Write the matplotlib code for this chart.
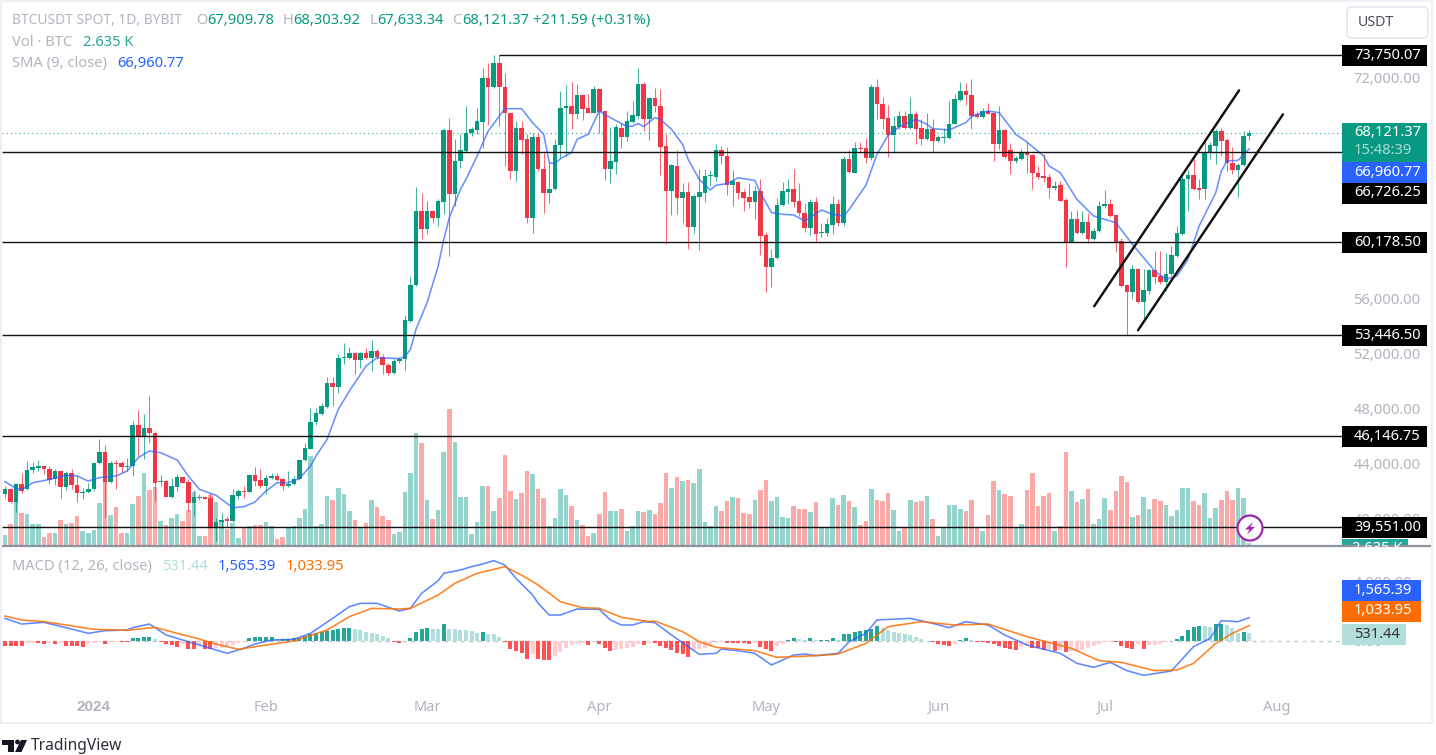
import numpy as np
import pandas as pd
import matplotlib
matplotlib.use("Agg")
import matplotlib.pyplot as plt
from matplotlib.patches import Rectangle, FancyBboxPatch, Circle, Polygon
from matplotlib.ticker import FixedLocator, FixedFormatter
from matplotlib.transforms import ScaledTranslation

plt.rcParams['font.family'] = ['Noto Sans', 'DejaVu Sans']

# ---------- data (prices in thousands of USDT) ----------
dates = pd.date_range("2023-12-16", periods=225, freq="D")

opens = [41.91,42.27,41.35,42.63,42.27,43.65,43.84,43.96,43.77,42.99,
43.60,42.44,43.43,42.56,42.03,42.08,42.27,44.16,44.98,42.80,
44.21,44.21,43.91,43.96,46.96,46.14,46.70,46.38,42.83,42.85,
41.71,42.44,43.17,42.80,41.30,41.64,41.69,41.67,39.54,39.90,
40.10,39.97,41.79,42.15,42.08,43.31,42.95,42.51,43.07,43.21,
42.99,42.51,42.66,43.05,44.37,45.22,47.15,47.74,48.24,49.98,
49.72,51.80,51.82,52.18,51.63,52.18,51.77,52.33,51.90,51.27,
50.73,51.56,51.70,54.48,57.12,62.46,61.13,62.46,61.97,63.13,
68.33,63.71,66.06,66.78,68.11,68.33,68.91,72.13,71.43,73.17,
71.45,69.54,65.36,68.45,67.66,61.95,67.85,65.53,63.79,64.03,
67.22,69.90,70.07,69.52,70.90,69.93,69.59,71.33,69.71,65.48,
66.01,68.50,67.83,68.91,69.35,71.69,69.15,70.65,70.07,67.15,
63.91,65.72,63.42,63.84,61.30,63.50,63.79,64.97,64.95,66.86,
66.47,64.32,64.59,63.84,63.47,63.13,63.91,60.69,58.37,59.02,
62.87,63.86,64.03,63.16,62.34,61.20,63.11,60.84,60.84,61.44,
62.94,61.59,66.25,65.24,67.05,67.00,66.28,71.48,70.20,69.18,
67.95,68.55,69.35,68.45,69.47,68.45,67.66,68.38,67.51,67.75,
67.73,68.75,70.51,71.16,70.87,69.47,69.30,69.71,69.54,67.32,
68.33,66.86,66.06,66.23,66.69,66.54,65.24,65.00,64.95,64.15,
64.32,63.26,60.23,61.85,60.84,61.68,60.40,60.98,62.80,62.97,
62.14,60.26,57.07,56.61,58.27,55.86,56.65,58.15,57.74,57.33,
57.86,59.19,60.77,64.75,65.09,64.13,64.03,66.64,67.17,68.24,
67.58,65.96,65.43,65.77,67.91]

closes = [42.27,41.35,42.63,42.15,43.65,43.87,43.96,43.72,42.95,43.60,
42.44,43.43,42.56,42.03,42.10,42.27,44.21,44.98,42.80,44.16,
44.11,43.91,43.99,46.96,46.14,46.70,46.33,42.76,42.87,41.71,
42.51,43.17,42.76,41.30,41.69,41.71,41.59,39.54,39.93,40.05,
40.00,41.84,42.13,42.08,43.31,42.87,42.51,43.07,43.24,42.95,
42.51,42.68,43.05,44.40,45.29,47.18,47.78,48.29,49.98,49.72,
51.82,51.90,52.18,51.63,52.18,51.77,52.33,51.90,51.27,50.69,
51.56,51.75,54.53,57.12,62.46,61.13,62.46,61.97,63.18,68.33,
63.71,66.11,66.86,68.14,68.38,68.96,72.13,71.43,73.17,71.43,
69.54,65.36,68.45,67.58,61.95,67.85,65.48,63.79,64.03,67.27,
69.90,70.07,69.52,70.90,69.88,69.59,71.33,69.66,65.48,66.06,
68.55,67.83,68.96,69.40,71.69,69.15,70.65,70.05,67.10,63.91,
65.77,63.42,63.84,61.30,63.55,63.84,65.00,65.04,66.86,66.45,
64.32,64.61,63.79,63.42,63.13,63.91,60.64,58.37,59.07,62.87,
63.91,64.03,63.11,62.34,61.20,63.11,60.76,60.89,61.49,62.94,
61.59,66.25,65.29,67.05,66.96,66.28,71.48,70.20,69.16,67.95,
68.60,69.35,68.45,69.47,68.43,67.66,68.38,67.51,67.83,67.83,
68.79,70.58,71.16,70.85,69.35,69.30,69.71,69.52,67.32,68.33,
66.40,66.06,66.28,66.69,66.50,65.19,64.95,64.88,64.15,64.27,
63.21,60.23,61.85,60.84,61.68,60.40,61.03,62.82,62.97,62.09,
60.21,57.02,56.61,58.27,55.86,56.70,58.15,57.69,57.33,57.91,
59.24,60.84,64.80,65.09,64.03,64.01,66.76,67.22,68.24,67.54,
65.92,65.43,65.82,67.91,68.12]

highs = [42.51,42.39,42.75,43.48,44.33,44.25,44.40,44.01,43.96,43.77,
43.65,43.60,43.77,43.24,42.39,42.75,44.25,45.90,45.49,44.33,
44.40,44.33,44.57,47.23,48.00,47.71,49.02,46.50,43.29,42.95,
43.12,43.36,43.24,42.99,42.22,41.91,41.79,41.98,40.22,40.58,
40.34,42.27,42.27,42.51,43.36,43.89,43.77,43.29,43.48,43.43,
43.12,43.60,43.24,44.45,45.66,48.20,48.20,48.56,50.42,50.42,
52.06,52.86,52.62,52.23,52.23,52.55,53.08,52.43,52.06,51.41,
51.70,51.90,54.92,57.70,64.22,63.79,63.18,62.53,63.30,68.50,
69.18,67.66,68.02,70.07,68.57,69.95,72.85,73.17,73.75,73.75,
72.49,69.54,68.99,68.99,68.02,68.14,68.14,66.81,66.01,67.70,
71.16,71.57,71.84,71.65,70.92,70.92,71.52,71.40,69.71,68.57,
68.74,68.86,69.71,70.44,72.85,71.84,70.73,71.36,71.33,68.02,
65.84,66.86,64.51,64.56,63.67,65.48,65.48,65.41,67.29,67.17,
67.12,65.41,64.66,64.03,64.46,64.27,64.80,60.93,59.68,63.40,
64.56,64.75,65.53,64.51,63.06,63.35,63.50,61.56,61.92,63.55,
63.30,66.45,66.86,67.46,67.49,67.78,71.65,72.06,70.75,70.15,
69.35,69.71,69.71,70.75,69.71,69.11,69.59,69.11,67.95,68.50,
70.44,70.92,71.84,71.72,72.06,69.71,69.95,70.32,69.59,70.07,
68.38,67.41,66.45,66.98,67.46,66.57,65.72,66.57,65.12,64.63,
64.63,63.43,62.46,62.53,62.46,62.34,61.25,63.18,63.96,63.30,
62.19,60.52,57.14,58.52,58.35,58.22,58.22,59.56,59.56,59.44,
59.92,61.37,65.00,65.43,66.25,64.75,67.54,67.46,68.43,68.50,
67.73,67.12,65.92,68.26,68.30]

lows = [41.67,41.30,40.63,42.03,42.20,43.48,43.60,43.36,42.63,42.56,
41.64,42.22,42.27,41.38,41.59,42.03,42.15,44.08,40.22,42.75,
42.27,43.53,43.60,43.24,44.69,44.45,45.66,41.42,42.51,41.71,
41.67,42.15,42.71,40.70,40.34,41.50,41.55,39.49,38.52,39.49,
39.56,39.90,41.55,41.64,41.98,42.51,42.39,41.91,42.99,42.87,
42.22,42.44,42.56,42.95,44.33,45.17,46.91,47.66,48.20,48.32,
49.23,51.34,51.70,50.61,51.10,51.70,50.86,51.70,50.61,50.59,
50.66,51.46,50.93,54.43,57.00,60.40,60.76,61.56,61.37,62.21,
59.19,62.82,65.60,66.69,67.90,68.02,67.05,68.70,71.40,68.62,
65.72,64.80,64.63,66.57,61.56,60.89,65.36,62.34,63.06,63.98,
66.33,66.45,68.43,69.11,69.06,69.54,69.54,68.14,64.71,64.51,
65.12,67.05,67.53,68.86,69.11,68.26,67.61,69.64,65.04,60.09,
62.17,62.22,61.61,59.68,60.84,59.63,63.11,64.27,64.63,65.84,
63.64,62.82,63.35,62.46,62.70,61.85,59.24,56.58,56.97,58.95,
62.82,62.94,62.77,62.09,60.93,60.69,60.28,60.60,60.64,60.76,
61.37,61.37,65.19,65.19,66.64,65.91,66.16,69.16,68.38,66.40,
66.64,68.43,68.38,68.38,67.29,67.22,67.58,66.74,67.46,67.37,
67.70,68.75,70.44,70.15,68.38,69.23,69.23,69.47,66.09,66.93,
66.33,65.12,65.96,66.16,65.19,64.08,64.76,64.56,63.38,63.96,
63.18,58.42,60.21,60.77,60.77,60.11,60.35,60.93,62.70,62.05,
59.48,56.97,53.45,56.05,55.81,54.48,56.41,57.21,57.14,56.65,
57.74,59.15,60.69,62.46,63.98,63.30,63.35,66.25,65.84,66.45,
65.36,65.12,63.50,65.72,67.63]

# volume, thousands of BTC
volumes = [11,22,50,33,32,22,22,9,13,13,
26,22,23,30,15,13,16,43,75,31,
39,13,13,42,50,73,56,59,25,21,
28,32,25,36,54,10,10,51,44,24,
17,23,8,18,20,21,21,24,20,7,
9,19,20,28,37,90,20,22,50,46,
58,52,35,26,18,23,46,39,30,26,
12,14,54,73,113,103,46,27,36,94,
137,104,49,49,12,24,60,60,35,48,
91,55,47,53,75,72,57,48,20,28,
57,51,40,26,21,10,13,32,54,35,
35,37,15,20,35,34,36,32,43,73,
58,69,65,66,63,77,24,20,40,35,
45,49,48,33,32,46,56,66,45,49,
29,28,40,37,37,34,44,19,19,48,
41,51,45,39,21,25,57,46,45,53,
36,15,19,46,44,45,50,27,10,18,
41,41,37,35,46,18,15,31,65,56,
52,50,19,22,56,73,40,50,53,15,
20,94,55,44,47,57,22,27,48,36,
55,70,64,29,31,49,37,47,45,41,
30,36,58,58,45,41,53,28,38,46,
55,46,58,48,2.635]

# SMA(9) read at the listed candle numbers
sma_at = [0,2,3,5,8,11,13,15,17,20,22,24,26,28,31,33,35,38,41,43,45,47,49,51,53,55,56,58,60,62,64,65,67,71,72,73,74,76,78,79,80,82,83,85,87,90,93,95,97,98,99,100,102,103,105,107,109,112,113,114,115,117,118,120,122,123,125,127,128,130,132,135,136,138,140,142,144,147,149,151,152,155,157,159,161,164,166,167,170,173,174,177,179,182,184,187,188,190,193,196,200,203,207,209,211,213,215,218,219,220,222,224]
sma_vals = [42.83,42.32,42.27,42.75,42.99,43.29,43.24,42.87,43.12,43.24,43.60,44.57,45.05,44.93,44.40,43.24,42.27,41.84,40.94,41.01,41.35,42.15,42.75,42.75,43.05,43.96,44.69,45.90,48.07,49.40,50.61,51.22,51.82,51.75,51.90,52.43,53.88,55.81,58.47,60.40,61.97,64.03,64.75,66.45,68.26,69.88,69.88,68.86,68.02,65.96,65.89,66.25,66.69,67.66,68.02,69.71,69.23,68.58,68.62,68.80,68.58,69.23,69.11,68.38,67.29,66.21,64.75,63.98,64.32,64.44,64.87,64.68,63.79,62.34,62.22,62.17,61.73,62.53,62.22,62.09,62.58,64.32,66.57,67.95,68.55,69.11,68.75,68.43,68.33,68.87,69.30,69.71,69.59,68.02,67.46,66.45,65.72,65.24,63.30,62.10,61.61,60.04,58.11,57.50,57.74,58.95,61.37,63.79,65.36,66.09,66.13,66.96]

macd_at = [0,3,7,11,15,18,22,23,26,29,32,35,37,40,43,45,48,52,55,59,62,64,67,71,73,75,77,78,79,82,84,86,88,90,92,95,96,98,100,103,107,109,111,113,115,117,120,123,125,128,129,132,135,138,142,144,146,150,152,155,157,163,167,170,173,177,180,184,190,193,196,199,202,205,210,214,217,219,222,224]
macd_vals = [1523,1142,1254,896,515,694,739,896,1142,403,67,-269,-493,-829,-493,-202,67,112,515,1523,2307,2531,2531,2016,2195,3203,3763,4054,4547,4771,4995,5174,5398,5107,4211,3091,2531,1747,1747,2150,2128,1411,1075,1075,1299,1232,403,-381,-896,-829,-538,-650,-829,-1613,-941,-874,-986,-829,-45,515,1411,1523,1187,896,1299,1075,403,-269,-829,-1501,-1770,-1434,-1994,-2307,-2016,-381,179,1366,1299,1565]

signal_at = [0,3,7,11,16,22,27,31,35,38,42,47,52,58,62,66,71,73,78,81,85,90,93,96,100,104,107,111,116,117,122,125,128,135,139,146,150,155,159,165,171,177,184,192,197,201,207,211,214,218,221,224]
signal_vals = [1680,1411,1299,1075,784,717,918,515,134,-202,-560,-269,0,739,1635,2195,2150,2195,3091,3875,4547,4995,4435,3763,2643,2240,2195,1590,1299,1344,627,-45,-426,-650,-1098,-986,-874,-157,963,1299,1075,1142,291,-493,-1322,-1434,-1994,-1949,-1501,-157,515,1034]

hist_vals = [-336,-336,-336,-358,-134,-112,-112,-179,-112,-202,
-134,-314,-336,-358,-381,-224,-134,-67,-179,-67,
-45,-45,-67,179,179,246,269,134,-90,-179,
-269,-403,-224,-538,-538,-269,-538,-538,-493,-448,
-336,-269,-134,-90,202,246,246,246,246,157,
157,157,179,202,336,448,560,627,694,739,
806,851,851,829,739,627,560,448,336,179,
-90,-134,-22,224,582,784,851,829,806,1120,
829,784,739,717,672,560,582,493,470,269,
-45,-538,-672,-784,-1232,-896,-1187,-1277,-1299,-1008,
-717,-448,-269,-224,-112,-269,-67,-179,-493,-672,
-627,-560,-493,-403,-224,-246,-112,-112,-336,-493,
-627,-784,-896,-1053,-627,-560,-448,-336,-112,-67,
-112,-112,-112,-157,-224,-112,-403,-560,-672,-336,
-179,67,179,112,90,179,45,45,90,179,
45,448,493,605,672,717,806,1008,896,739,
605,538,448,381,269,112,0,-67,-224,-291,
-314,-179,45,179,45,-67,-90,-134,-224,-336,
-448,-560,-582,-403,-336,-448,-493,-627,-560,-672,
-605,-717,-694,-672,-605,-493,-336,-179,-67,-45,
-67,-336,-493,-515,-179,-560,-291,-269,-179,-90,
-22,134,336,717,941,1008,986,963,1120,1165,
1075,851,515,605,538]

price_ticks = [72000, 56000, 52000, 48000, 44000, 40000]
macd_ticks = [4000, 0]
month_at = [16, 47, 76, 107, 137, 168, 198, 229]
month_labels = ["2024", "Feb", "Mar", "Apr", "May", "Jun", "Jul", "Aug"]
level_prices = [66726.25, 60178.50, 53446.50, 46146.75, 39551.00]
ath_price = 73750.07
last_price = 68121.37
channel_upper_x, channel_upper_y = [196.1, 222.2], [55545, 71211]
channel_lower_x, channel_lower_y = [204.0, 230.1], [53805, 69471]

# ---------- layout helpers ----------
W, H = 1436, 755
fig = plt.figure(figsize=(W / 100, H / 100), dpi=100, facecolor="white")

def axes_px(x0, y0, x1, y1, **kw):
    return fig.add_axes([x0 / W, 1 - y1 / H, (x1 - x0) / W, (y1 - y0) / H], **kw)

GREEN, RED = "#089981", "#f23645"
GRAY = "#b2b5be"
FS = 10.6
X0, X1 = 2, 1342
xlim = ((X0 - 5) / 5.554, (X1 - 5) / 5.554)

o = np.array(opens) * 1000
c = np.array(closes) * 1000
hi = np.array(highs) * 1000
lo = np.array(lows) * 1000
idx = np.arange(len(dates))
up = c >= o

# volume
ax_v = axes_px(X0, 4, X1, 546, zorder=1)
ax_v.bar(idx, volumes, width=0.82, linewidth=0,
         color=np.where(up, "#95d3cd", "#f9a9a7"))
ax_v.set_xlim(*xlim)
ax_v.set_ylim(0, 542)
ax_v.axis("off")

# price
ax = axes_px(X0, 4, X1, 546, zorder=2)
ax.patch.set_alpha(0)
ax.set_xlim(*xlim)
ax.set_ylim(38161, 77472)
for s in ax.spines.values():
    s.set_visible(False)
cols = np.where(up, GREEN, RED)
ax.vlines(idx, lo, hi, colors=cols, linewidth=0.75, alpha=0.75, zorder=2)
ax.bar(idx, np.maximum(np.abs(c - o), 70), bottom=np.minimum(o, c), width=0.82,
       color=cols, linewidth=0, zorder=3)
ax.plot(sma_at, np.array(sma_vals) * 1000, color="#2962ff", alpha=0.7, lw=1.15, zorder=4)
ax.hlines(last_price, xlim[0], xlim[1], colors=GREEN, lw=0.9,
          linestyles=(0, (1, 2.4)), alpha=0.75, zorder=1)
ax.hlines(level_prices, xlim[0], xlim[1], colors="#111111", lw=1.0, zorder=5)
ax.hlines(ath_price, 89, xlim[1], colors="#111111", lw=1.0, zorder=5)
ax.plot(channel_upper_x, channel_upper_y, color="#111111", lw=1.75, zorder=5,
        solid_capstyle="round")
ax.plot(channel_lower_x, channel_lower_y, color="#111111", lw=1.75, zorder=5,
        solid_capstyle="round")
ax.set_xticks([])
ax.yaxis.tick_right()
ax.yaxis.set_major_locator(FixedLocator(price_ticks))
ax.yaxis.set_major_formatter(FixedFormatter([f"{v:,.2f}" for v in price_ticks]))
ax.tick_params(axis="y", length=0, pad=8.2, labelsize=FS, labelcolor=GRAY)
lift = ScaledTranslation(0, 2 / 100, fig.dpi_scale_trans)
for lbl in ax.get_yticklabels():
    lbl.set_transform(lbl.get_transform() + lift)

# MACD
ax_m = axes_px(X0, 547, X1, 695, zorder=2)
ax_m.patch.set_alpha(0)
ax_m.set_xlim(*xlim)
ax_m.set_ylim(-3629, 6317)
for s in ax_m.spines.values():
    s.set_visible(False)
hv = np.array(hist_vals, dtype=float)
prev = np.r_[hv[0], hv[:-1]]
hcol = []
for h, p in zip(hv, prev):
    if h >= 0:
        hcol.append("#26a69a" if h >= p else "#b2dfdb")
    else:
        hcol.append("#ff5252" if h <= p else "#ffcdd2")
ax_m.axhline(0, color="#c5c8d0", lw=1, linestyle=(0, (3, 3)), zorder=1)
ax_m.bar(idx, hv, width=0.72, color=hcol, linewidth=0, zorder=2)
ax_m.plot(macd_at, macd_vals, color="#2962ff", alpha=0.75, lw=1.15, zorder=3)
ax_m.plot(signal_at, signal_vals, color="#ff6d00", alpha=0.85, lw=1.15, zorder=4)
ax_m.yaxis.tick_right()
ax_m.yaxis.set_major_locator(FixedLocator(macd_ticks))
ax_m.yaxis.set_major_formatter(FixedFormatter(["4,000.00", "0.00"]))
ax_m.tick_params(axis="y", length=0, pad=8.2, labelsize=FS, labelcolor=GRAY)
ax_m.set_xticks(month_at)
ax_m.set_xticklabels(month_labels)
ax_m.tick_params(axis="x", length=0, pad=3.5, labelsize=FS, labelcolor=GRAY)
first = ax_m.get_xticklabels()[0]
first.set_family("Liberation Sans")
first.set_fontweight("bold")
first.set_fontsize(11)

# ---------- overlay in pixels ----------
ov = fig.add_axes([0, 0, 1, 1], zorder=10)
ov.set_xlim(0, W)
ov.set_ylim(H, 0)
ov.axis("off")
ov.patch.set_alpha(0)

def txt(x, y, s, color=GRAY, size=FS, ha="left", **kw):
    return ov.text(x, y, s, color=color, fontsize=size, ha=ha, va="center", **kw)

# frame
FRAME = "#eef0f6"
ov.add_patch(Rectangle((0.5, 1), 1431.5, 722, fill=False, edgecolor=FRAME, lw=1.6))
ov.plot([1.5, 1431], [546, 546], color="#8f929a", lw=1.6, solid_capstyle="butt")

# legends
txt(12, 20.5, "BTCUSDT SPOT, 1D, BYBIT", size=9.95)
txt(196, 20.5, "O")
txt(207, 20.5, "67,909.78", GREEN)
txt(283, 20.5, "H")
txt(293, 20.5, "68,303.92", GREEN)
txt(370, 20.5, "L")
txt(377, 20.5, "67,633.34", GREEN)
txt(452, 20.5, "C")
txt(462, 20.5, "68,121.37", GREEN)
txt(533, 20.5, "+211.59 (+0.31%)", GREEN)
txt(12, 42.5, "Vol · BTC")
txt(83, 42.5, "2.635 K", "#26a69a")
txt(12, 63.5, "SMA (9, close)")
txt(117, 63.5, "66,960.77", "#2962ff")
txt(12, 566.5, "MACD (12, 26, close)")
txt(162, 566.5, "531.44", "#b2dfdb")
txt(218, 566.5, "1,565.39", "#2962ff")
txt(286, 566.5, "1,033.95", "#ff6d00")

# currency button
ov.add_patch(FancyBboxPatch((1347, 7), 81, 31, boxstyle="round,pad=0,rounding_size=5",
                            facecolor="white", edgecolor="#e4e6ee", lw=1.1))
txt(1358, 22, "USDT", "#4a4e59", 10.2)

# price labels
def box(y0, y1, color, x1=1427):
    ov.add_patch(Rectangle((1342, y0), x1 - 1342, y1 - y0, facecolor=color, edgecolor="none"))

LBL_X = 1354
box(538.5, 546, "#26a69a", 1408)
t = txt(1352, 548.5, "2.635 K", "white")
t.set_clip_path(Rectangle((1342, 538.5), 66, 7.5, transform=ov.transData))
for y, s in [(55.5, "73,750.07"), (193, "66,726.25"), (242.5, "60,178.50"),
             (335.5, "53,446.50"), (436.5, "46,146.75"), (527.5, "39,551.00")]:
    box(y - 10.5, y + 10.5, "black")
    txt(LBL_X, y, s, "white")
box(122.5, 162, GREEN)
txt(LBL_X, 133, "68,121.37", "white")
txt(LBL_X, 151, "15:48:39", "#a8dcd2")
box(162, 183, "#2962ff")
txt(LBL_X, 172, "66,960.77", "white")
box(580, 601, "#2962ff", 1421)
txt(1354, 590, "1,565.39", "white")
box(601, 622, "#ff6d00", 1421)
txt(1354, 611, "1,033.95", "white")
box(623.5, 645, "#b2dfdb", 1406)
txt(1354, 634, "531.44", "#333333")

# lightning badge
ov.add_patch(Circle((1250, 528), 12.5, facecolor="white", edgecolor="#9c27b0", lw=1.6))
ov.add_patch(Polygon([(1253, 522), (1245, 529.5), (1249.5, 529.5), (1247, 534.5),
                      (1255, 527), (1250.5, 527)], closed=True, facecolor="#9c27b0",
                     edgecolor="none"))

# TradingView logo
LOGO = "#131722"
ov.add_patch(Rectangle((2, 740), 12, 4.5, facecolor=LOGO, edgecolor="none"))
ov.add_patch(Rectangle((7.5, 740), 6.5, 12, facecolor=LOGO, edgecolor="none"))
ov.add_patch(Circle((17.5, 742), 2.4, facecolor=LOGO, edgecolor="none"))
ov.add_patch(Polygon([(21, 740), (27, 740), (21.5, 752), (15, 752)], closed=True,
                     facecolor=LOGO, edgecolor="none"))
txt(31, 746, "TradingView", "#2a2e39", 11.2)

fig.savefig("out.png", dpi=100, facecolor="white")
